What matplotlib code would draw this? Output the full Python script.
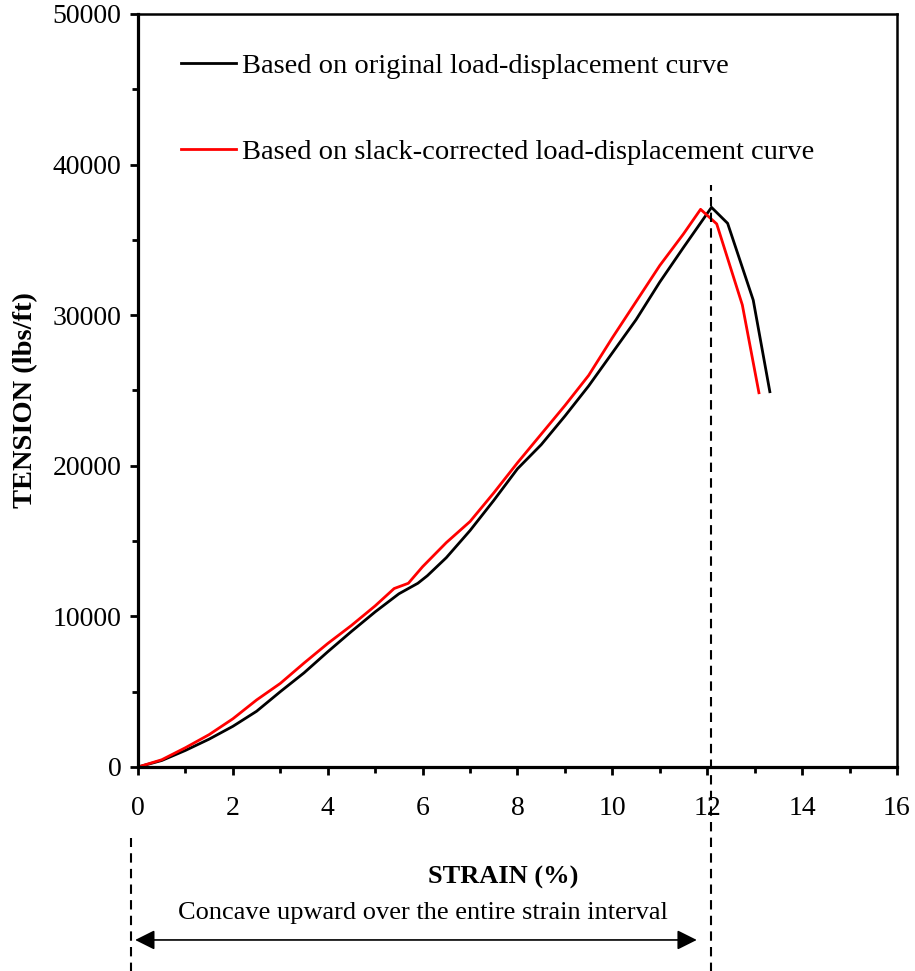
import matplotlib
matplotlib.use("Agg")
import matplotlib.pyplot as plt
import matplotlib.transforms as mtransforms

plt.rcParams['font.family'] = ['Liberation Serif', 'DejaVu Serif']

# Tension vs strain, original load-displacement curve
strain_orig = [0, 0.5, 1.0, 1.5, 2.0, 2.5, 3.0, 3.5, 4.0, 4.5, 5.0, 5.5, 5.9, 6.1,
               6.5, 7.0, 7.5, 8.0, 8.5, 9.0, 9.5, 10.0, 10.5, 11.0, 11.5, 12.09,
               12.43, 12.97, 13.32]
tension_orig = [0, 430, 1100, 1850, 2700, 3700, 5000, 6250, 7650, 9000, 10300, 11500,
                12200, 12700, 13900, 15700, 17700, 19800, 21400, 23300, 25300, 27500,
                29700, 32200, 34500, 37160, 36100, 31000, 24920]

# Tension vs strain, slack-corrected curve
strain_corr = [0, 0.5, 1.0, 1.5, 2.0, 2.5, 3.0, 3.5, 4.0, 4.5, 5.0, 5.4, 5.7, 6.0,
               6.5, 7.0, 7.5, 8.0, 8.5, 9.0, 9.5, 10.0, 10.5, 11.0, 11.5, 11.86,
               12.2, 12.74, 13.09]
tension_corr = [0, 480, 1280, 2150, 3200, 4450, 5550, 6900, 8200, 9400, 10700, 11850,
                12200, 13300, 14900, 16300, 18200, 20200, 22100, 24000, 26000, 28500,
                30900, 33300, 35400, 37030, 36060, 30680, 24850]

peak_strain = 12.09
arrow_start, arrow_end = -0.06, 11.78

fig = plt.figure(figsize=(9.15, 9.71), dpi=100)
ax = fig.add_axes([0.1508, 0.2101, 0.8295, 0.7755])

ax.plot(strain_orig, tension_orig, color='black', lw=2,
        label='Based on original load-displacement curve')
ax.plot(strain_corr, tension_corr, color='#ff0000', lw=2,
        label='Based on slack-corrected load-displacement curve')

ax.set_xlim(0, 16)
ax.set_ylim(0, 50000)
ax.set_xticks(range(0, 17, 2))
ax.set_xticks(range(1, 17, 2), minor=True)
ax.set_yticks(range(0, 50001, 10000))
ax.set_yticks(range(5000, 50000, 10000), minor=True)

for side in ['left', 'bottom']:
    ax.spines[side].set_linewidth(2.3)
for side in ['top', 'right']:
    ax.spines[side].set_linewidth(1.8)

ax.tick_params(axis='both', which='major', direction='out', length=6, width=2,
               labelsize=20)
ax.tick_params(axis='both', which='minor', direction='out', length=4.5, width=2)
ax.tick_params(axis='x', which='major', pad=15)
ax.tick_params(axis='y', which='major', pad=6)

ax.set_ylabel('TENSION (lbs/ft)', fontsize=20.5, fontweight='bold', labelpad=10,
              y=0.487)
fig.text(503 / 915, 1 - 877 / 971, 'STRAIN (%)', fontsize=19, fontweight='bold',
         ha='center', va='center')

ax.legend(loc='upper left', bbox_to_anchor=(0.0567, 0.948), frameon=False,
          fontsize=20.5, handlelength=1.93, handletextpad=0.21, labelspacing=2.1,
          borderpad=0, borderaxespad=0)

# dashed guide lines and strain-interval annotation below the axes
trans = mtransforms.blended_transform_factory(ax.transData, ax.transAxes)
ax.plot([peak_strain, peak_strain], [-0.28, 0.773], transform=trans, color='black',
        lw=1.5, dashes=(4.5, 3), clip_on=False)
ax.plot([-0.15, -0.15], [-0.28, -0.094], transform=trans, color='black',
        lw=1.5, dashes=(4.5, 3), clip_on=False)
ax.annotate('', xy=(arrow_start, -0.2297), xytext=(arrow_end, -0.2297),
            xycoords=trans, textcoords=trans,
            arrowprops=dict(arrowstyle='<|-|>', color='black', lw=1.2,
                            mutation_scale=30, shrinkA=0, shrinkB=0))
ax.text(6.0, -0.194, 'Concave upward over the entire strain interval',
        transform=trans, fontsize=19, ha='center', va='center')

fig.savefig('out.png', dpi=100)
